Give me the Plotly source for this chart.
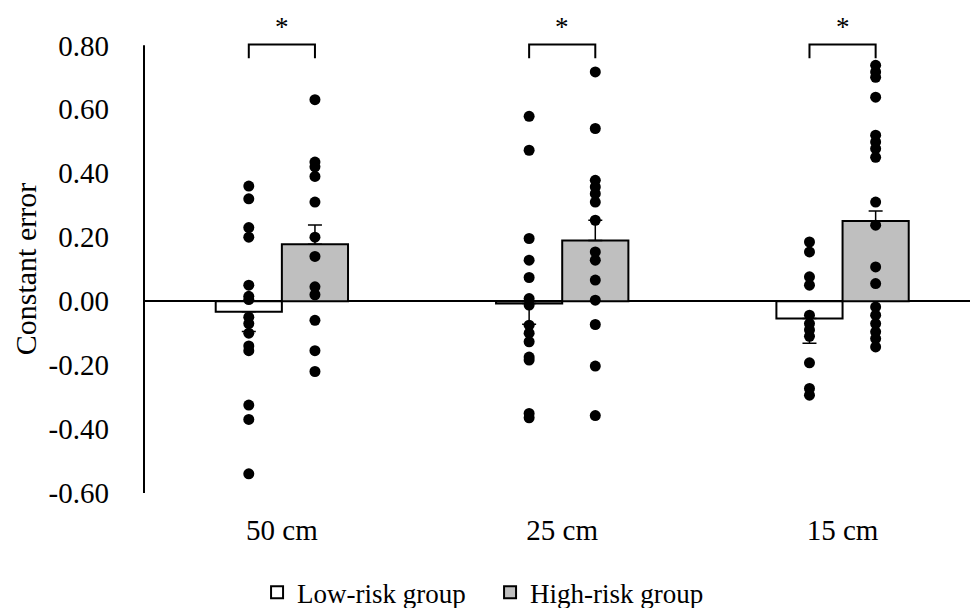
import plotly.graph_objects as go

# ---------------- data ----------------
categories = ["50 cm", "25 cm", "15 cm"]
series_names = ["Low-risk group", "High-risk group"]

low_means = [-0.033, -0.007, -0.054]
low_err = [0.062, 0.065, 0.078]
high_means = [0.178, 0.190, 0.251]
high_err = [0.060, 0.063, 0.031]

low_points = [
    [0.36, 0.32, 0.23, 0.20, 0.05, 0.015, 0.005, -0.05, -0.07, -0.10, -0.14, -0.155, -0.325, -0.37, -0.54],
    [0.578, 0.472, 0.196, 0.128, 0.074, 0.008, -0.012, -0.075, -0.10, -0.127, -0.175, -0.184, -0.351, -0.365],
    [0.185, 0.154, 0.076, 0.05, -0.044, -0.07, -0.09, -0.11, -0.193, -0.273, -0.294],
]
high_points = [
    [0.63, 0.435, 0.42, 0.39, 0.31, 0.20, 0.14, 0.045, 0.02, -0.06, -0.155, -0.22],
    [0.717, 0.54, 0.378, 0.357, 0.336, 0.31, 0.253, 0.154, 0.128, 0.066, 0.003, -0.073, -0.203, -0.358],
    [0.7375, 0.717, 0.70, 0.638, 0.519, 0.498, 0.477, 0.45, 0.31, 0.2375, 0.107, 0.055,
     -0.018, -0.044, -0.07, -0.096, -0.117, -0.143],
]

significance = ["*", "*", "*"]
y_title = "Constant error"
y_tick_vals = [0.8, 0.6, 0.4, 0.2, 0.0, -0.2, -0.4, -0.6]
y_tick_text = ["0.80", "0.60", "0.40", "0.20", "0.00", "-0.20", "-0.40", "-0.60"]

# ---------------- styling / layout constants ----------------
FONT = "Liberation Serif, Times New Roman, serif"
BAR_W = 0.236
OFF = BAR_W / 2
BRACKET_TOP = 0.803
BRACKET_LEG = 0.76
STAR_Y = 0.858
Y_MIN, Y_AXIS_MAX, Y_VIEW_MAX = -0.6, 0.8, 0.92

xs = list(range(len(categories)))

fig = go.Figure()

fig.add_trace(go.Bar(
    x=xs, y=low_means, name=series_names[0], legendwidth=188,
    marker=dict(color="white", line=dict(color="black", width=2)),
    error_y=dict(type="data", symmetric=False, array=[0] * len(low_err), arrayminus=low_err,
                 color="black", thickness=1.5, width=7),
))
fig.add_trace(go.Bar(
    x=xs, y=high_means, name=series_names[1],
    marker=dict(color="#BFBFBF", line=dict(color="black", width=2)),
    error_y=dict(type="data", symmetric=False, array=high_err, arrayminus=[0] * len(high_err),
                 color="black", thickness=1.5, width=7),
))

for i in xs:
    fig.add_trace(go.Scatter(
        x=[i - OFF] * len(low_points[i]), y=low_points[i], mode="markers",
        marker=dict(color="black", size=11), showlegend=False, hoverinfo="y",
    ))
    fig.add_trace(go.Scatter(
        x=[i + OFF] * len(high_points[i]), y=high_points[i], mode="markers",
        marker=dict(color="black", size=11), showlegend=False, hoverinfo="y",
    ))
    fig.add_trace(go.Scatter(
        x=[i - OFF, i - OFF, i + OFF, i + OFF],
        y=[BRACKET_LEG, BRACKET_TOP, BRACKET_TOP, BRACKET_LEG],
        mode="lines", line=dict(color="black", width=2),
        showlegend=False, hoverinfo="skip",
    ))
    fig.add_annotation(x=i, y=STAR_Y, xref="x", yref="y", text=significance[i],
                       showarrow=False, font=dict(family=FONT, size=27, color="black"))

# vertical axis line only spanning the labelled range
fig.add_shape(type="line", xref="paper", yref="y", x0=0, x1=0, y0=Y_MIN, y1=Y_AXIS_MAX,
              line=dict(color="black", width=2))

# y-axis title
fig.add_annotation(text=y_title, xref="paper", yref="y", x=-0.144, y=(Y_MIN + Y_AXIS_MAX) / 2,
                   xanchor="center", yanchor="middle", textangle=-90, showarrow=False,
                   font=dict(family=FONT, size=30, color="black"))

fig.update_layout(
    width=970, height=608,
    margin=dict(l=144, r=0, t=7.1, b=114.5),
    paper_bgcolor="white", plot_bgcolor="white",
    barmode="group", bargap=1 - 2 * BAR_W, bargroupgap=0,
    font=dict(family=FONT, size=29, color="black"),
    showlegend=True,
    legend=dict(orientation="h", xref="container", yref="container",
                x=0.498, xanchor="center", y=0.025, yanchor="middle",
                font=dict(family=FONT, size=27, color="black"),
                bgcolor="rgba(0,0,0,0)"),
)

fig.update_xaxes(
    range=[-0.4918, 2.4546],
    tickvals=xs, ticktext=categories,
    showgrid=False, zeroline=False, showline=False, ticks="",
    ticklabelstandoff=17,
    tickfont=dict(family=FONT, size=29, color="black"),
)
fig.update_yaxes(
    range=[Y_MIN, Y_VIEW_MAX],
    tickvals=y_tick_vals, ticktext=y_tick_text,
    showgrid=False, showline=False,
    zeroline=True, zerolinecolor="black", zerolinewidth=2,
    ticks="", ticklabelstandoff=34,
    tickfont=dict(family=FONT, size=29, color="black"),
)

fig.write_html("out.html")
